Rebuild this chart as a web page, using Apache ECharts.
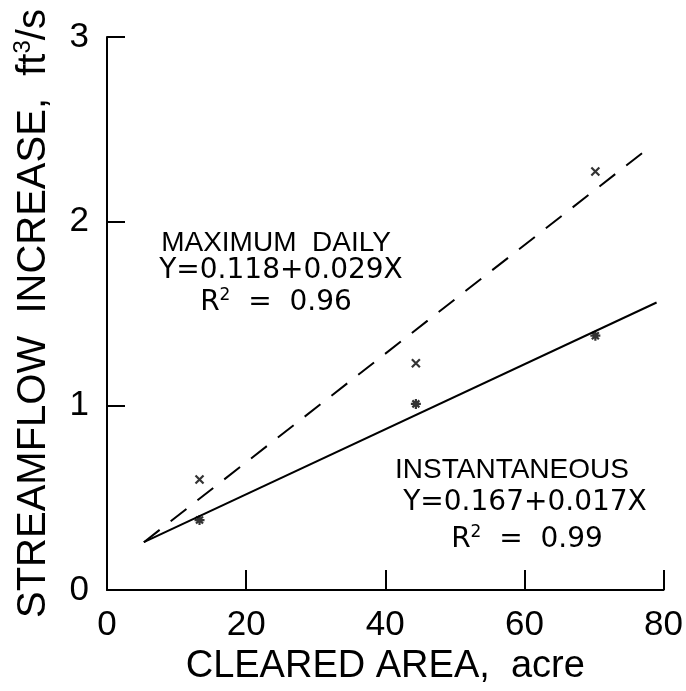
<!DOCTYPE html>
<html>
<head>
<meta charset="utf-8">
<script src="https://cdn.jsdelivr.net/npm/echarts@6/dist/echarts.min.js"></script>
<style>
  html, body { margin: 0; padding: 0; background: #fff; }
  #chart { width: 686px; height: 691px; }
</style>
</head>
<body>
<div id="chart"></div>
<script>
// values
var xTicks = [0, 20, 40, 60, 80];
var yTicks = [0, 1, 2, 3];

var clearedArea = [13.3, 44.4, 70.2];
var instantaneous = [0.38, 1.01, 1.38];
var maximumDaily = [0.60, 1.23, 2.27];

// fitted lines as drawn (end points)
var instFitX = [5.3, 79];
var instFitY = [0.26, 1.56];
var maxFitX = [5.3, 77.6];
var maxFitY = [0.26, 2.39];

function pairs(xs, ys) {
  return xs.map(function (x, i) { return [x, ys[i]]; });
}

var font = '"Liberation Sans", Arial, sans-serif';
var wideFont = '"DejaVu Sans", sans-serif';
var crossPath = 'path://M0,0L10,10M10,0L0,10';
var starPath = 'path://M5,0L5,10M0,5L10,5M1.5,1.5L8.5,8.5M8.5,1.5L1.5,8.5';

var chart = echarts.init(document.getElementById('chart'));

function note(text, x, y) {
  return {
    type: 'text',
    x: x,
    y: y,
    style: {
      text: text,
      fill: '#000',
      font: '28px ' + font,
      align: 'center',
      verticalAlign: 'middle',
      rich: {
        t: { fontSize: 28, fontFamily: font },
        e: { fontSize: 28, fontFamily: wideFont },
        s: { fontSize: 17, fontFamily: wideFont, verticalAlign: 'top', padding: [0, 0, 14, 0] }
      }
    }
  };
}

var option = {
  backgroundColor: '#fff',
  animation: false,
  grid: { left: 107, right: 18, top: 37, bottom: 89 },
  xAxis: {
    type: 'value',
    min: xTicks[0],
    max: xTicks[xTicks.length - 1],
    interval: 20,
    name: 'CLEARED AREA,  acre',
    nameLocation: 'middle',
    nameGap: 46,
    nameTextStyle: { fontSize: 38, fontFamily: font, color: '#000' },
    axisLine: { show: true, lineStyle: { color: '#000', width: 2 } },
    axisTick: { show: true, inside: true, length: 20, lineStyle: { color: '#000', width: 2 } },
    axisLabel: { fontSize: 35, fontFamily: font, color: '#000', margin: 18 },
    splitLine: { show: false }
  },
  yAxis: {
    type: 'value',
    min: yTicks[0],
    max: yTicks[yTicks.length - 1],
    interval: 1,
    name: '{a|STREAMFLOW  INCREASE,  ft}{b|3}{a|/s}',
    nameLocation: 'middle',
    nameGap: 50,
    nameTextStyle: {
      color: '#000',
      rich: {
        a: { fontSize: 40, fontFamily: font, color: '#000' },
        b: { fontSize: 24, fontFamily: font, color: '#000', padding: [0, 0, 22, 0] }
      }
    },
    axisLine: { show: true, lineStyle: { color: '#000', width: 2 } },
    axisTick: { show: true, inside: true, length: 18, lineStyle: { color: '#000', width: 2 } },
    axisLabel: { fontSize: 35, fontFamily: font, color: '#000', margin: 18 },
    splitLine: { show: false }
  },
  series: [
    {
      name: 'Maximum daily fit',
      type: 'line',
      data: pairs(maxFitX, maxFitY),
      symbol: 'none',
      lineStyle: { color: '#000', width: 2, type: [20, 14] }
    },
    {
      name: 'Instantaneous fit',
      type: 'line',
      data: pairs(instFitX, instFitY),
      symbol: 'none',
      lineStyle: { color: '#000', width: 2 }
    },
    {
      name: 'Maximum daily',
      type: 'scatter',
      data: pairs(clearedArea, maximumDaily),
      symbol: crossPath,
      symbolSize: 8,
      itemStyle: { color: '#000', borderColor: '#000', borderWidth: 2.2 }
    },
    {
      name: 'Instantaneous',
      type: 'scatter',
      data: pairs(clearedArea, instantaneous),
      symbol: starPath,
      symbolSize: 10,
      itemStyle: { color: '#000', borderColor: '#000', borderWidth: 2.2 }
    }
  ],
  graphic: [
    note('{t|MAXIMUM  DAILY}', 276, 243),
    note('{e|Y=0.118+0.029X}', 281, 271),
    note('{e|R}{s|2}{e|  =  0.96}', 276, 303),
    note('{t|INSTANTANEOUS}', 512, 470),
    note('{e|Y=0.167+0.017X}', 525, 503),
    note('{e|R}{s|2}{e|  =  0.99}', 527, 540)
  ]
};

chart.setOption(option);
</script>
</body>
</html>
